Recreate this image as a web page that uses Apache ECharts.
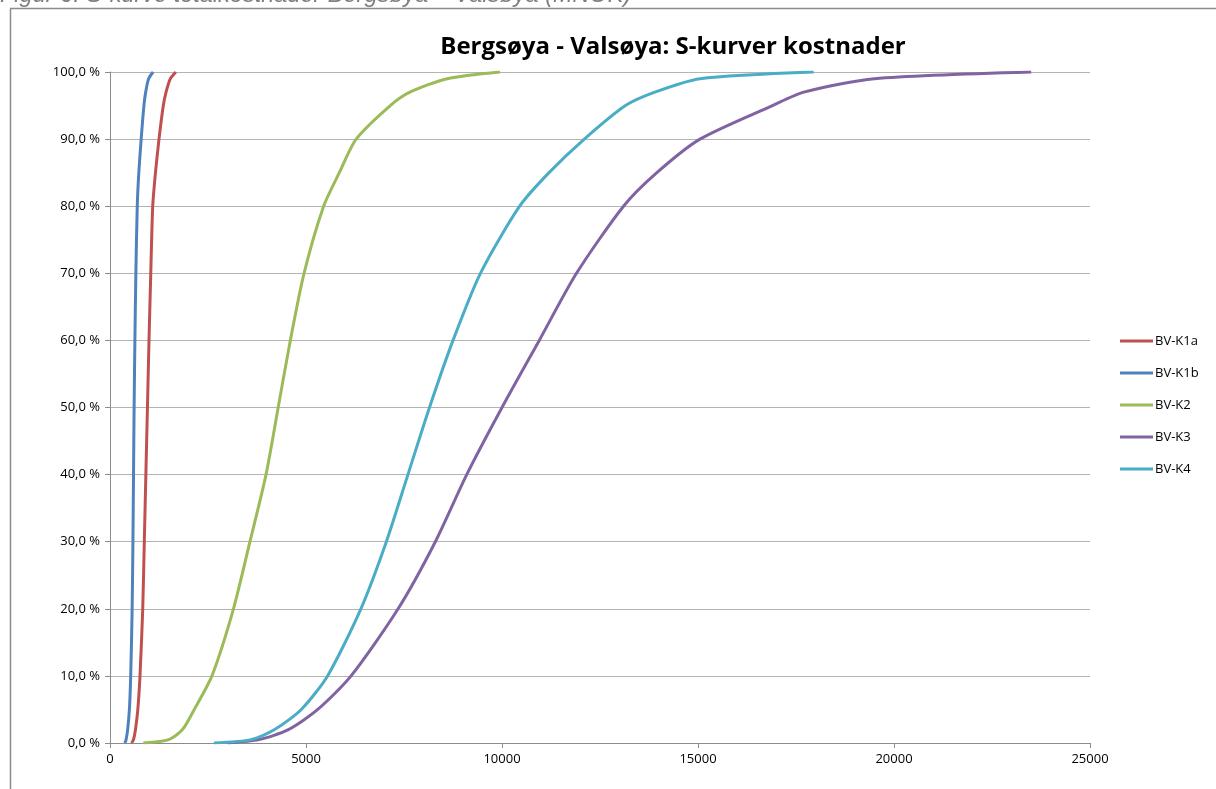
<!DOCTYPE html>
<html>
<head>
<meta charset="utf-8">
<title>Bergsøya - Valsøya: S-kurver kostnader</title>
<script src="https://cdn.jsdelivr.net/npm/echarts@6/dist/echarts.min.js"></script>
<style>
  html, body { margin: 0; padding: 0; background: #fff; }
  #chart { width: 1216px; height: 789px; }
</style>
</head>
<body>
<div id="chart"></div>
<script>
// cumulative share (%) at which each cost value is read
const levels = [0, 0.5, 2, 5, 10, 20, 30, 40, 50, 60, 70, 80, 85, 90, 95, 97, 99, 100];

// cost values (MNOK) per alternative, one per level
const k1a = [550, 600, 650, 710, 765, 835, 875, 915, 955, 995, 1040, 1090, 1160, 1250, 1360, 1430, 1540, 1680];
const k1b = [380, 410, 450, 495, 528, 565, 585, 600, 615, 635, 660, 695, 735, 795, 865, 910, 985, 1100];
const k2 = [850, 1500, 1850, 2150, 2600, 3150, 3570, 3980, 4290, 4600, 4950, 5450, 5850, 6280, 7150, 7650, 8600, 9950];
const k3 = [3000, 3800, 4550, 5300, 6150, 7350, 8300, 9100, 10000, 10950, 11900, 13100, 13950, 15050, 16900, 17700, 19500, 23500];
const k4 = [2650, 3600, 4200, 4880, 5550, 6400, 7050, 7600, 8150, 8750, 9450, 10450, 11200, 12100, 13150, 13900, 15050, 17950];

const names = ["BV-K1a", "BV-K1b", "BV-K2", "BV-K3", "BV-K4"];
const colors = ["#c0504d", "#4f81bd", "#9bbb59", "#8064a2", "#4bacc6"];
const seriesValues = [k1a, k1b, k2, k3, k4];

const chart = echarts.init(document.getElementById("chart"));

const series = names.map((name, idx) => ({
  name: name,
  type: "line",
  symbol: "none",
  smooth: 0.25,
  lineStyle: { color: colors[idx], width: 3 },
  itemStyle: { color: colors[idx] },
  data: seriesValues[idx].map((x, i) => [x, levels[i]])
}));

chart.setOption({
  animation: false,
  title: {
    text: "Bergsøya - Valsøya: S-kurver kostnader",
    left: 668,
    top: 30,
    textAlign: "center",
    textStyle: {
      fontFamily: "Open Sans",
      fontSize: 24,
      fontWeight: "bold",
      color: "#000"
    }
  },
  legend: {
    orient: "vertical",
    left: 1115,
    top: 328,
    icon: "rect",
    itemWidth: 33,
    itemHeight: 3,
    itemGap: 16,
    textStyle: {
      fontFamily: "Open Sans",
      fontSize: 13,
      lineHeight: 16,
      padding: [0, 0, 0, -3],
      color: "#000"
    },
    data: names
  },
  grid: {
    left: 110,
    right: 126,
    top: 72,
    bottom: 46,
    containLabel: false
  },
  xAxis: {
    type: "value",
    min: 0,
    max: 25000,
    interval: 5000,
    axisLine: { show: true, lineStyle: { color: "#8c8c8c", width: 1 } },
    axisTick: { show: true, length: 5, lineStyle: { color: "#8c8c8c" } },
    splitLine: { show: false },
    axisLabel: {
      margin: 10,
      fontFamily: "Open Sans",
      fontSize: 13,
      color: "#000",
      formatter: v => String(v)
    }
  },
  yAxis: {
    type: "value",
    min: 0,
    max: 100,
    interval: 10,
    axisLine: { show: true, lineStyle: { color: "#8c8c8c", width: 1 } },
    axisTick: { show: true, length: 5, lineStyle: { color: "#8c8c8c" } },
    splitLine: { show: true, lineStyle: { color: "#b3b3b3", width: 1 } },
    axisLabel: {
      margin: 10,
      fontFamily: "Open Sans",
      fontSize: 13,
      color: "#000",
      formatter: v => v.toFixed(1).replace(".", ",") + " %"
    }
  },
  graphic: [
    {
      type: "text",
      left: 0,
      top: -16,
      style: {
        text: "Figur 6: S-kurve totalkostnader Bergsøya – Valsøya (MNOK)",
        font: "italic 23.5px 'Liberation Sans'",
        fill: "#7f7f7f"
      }
    },
    {
      type: "line",
      shape: { x1: 10.5, y1: 8.5, x2: 10.5, y2: 789 },
      style: { stroke: "#8c8c8c", lineWidth: 1.5 }
    },
    {
      type: "line",
      shape: { x1: 10, y1: 8.5, x2: 1216, y2: 8.5 },
      style: { stroke: "#8c8c8c", lineWidth: 1.5 }
    }
  ],
  series: series
});
</script>
</body>
</html>
